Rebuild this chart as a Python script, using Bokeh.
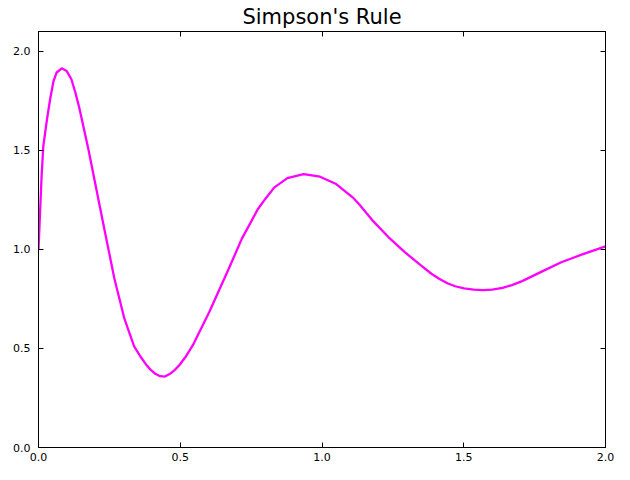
from bokeh.plotting import figure
from bokeh.models import Range1d, FixedTicker, PrintfTickFormatter, LinearAxis
from bokeh.embed import file_html
from bokeh.resources import INLINE

title_text = "Simpson's Rule"
tick_values = [0.0, 0.5, 1.0, 1.5, 2.0]

x_vals = [0.0, 0.006, 0.011, 0.017, 0.030, 0.041, 0.053, 0.064, 0.082,
          0.099, 0.116, 0.130, 0.145, 0.176, 0.211, 0.234, 0.268, 0.303, 0.337,
          0.360, 0.378, 0.395, 0.412, 0.429, 0.446, 0.464, 0.481, 0.498, 0.521,
          0.544, 0.602, 0.671, 0.717, 0.774, 0.797, 0.832, 0.878, 0.935, 0.993,
          1.050, 1.108, 1.131, 1.177, 1.235, 1.292, 1.350, 1.386, 1.413, 1.444,
          1.470, 1.501, 1.535, 1.568, 1.600, 1.637, 1.670, 1.706, 1.775, 1.844,
          1.913, 2.0]
y_vals = [1.0, 1.204, 1.372, 1.523, 1.657, 1.758, 1.850, 1.893, 1.914,
          1.901, 1.859, 1.792, 1.708, 1.506, 1.254, 1.090, 0.851, 0.650, 0.512,
          0.458, 0.422, 0.393, 0.372, 0.360, 0.358, 0.372, 0.392, 0.418, 0.462,
          0.515, 0.683, 0.902, 1.053, 1.204, 1.249, 1.313, 1.360, 1.380, 1.367,
          1.330, 1.263, 1.228, 1.148, 1.061, 0.986, 0.918, 0.877, 0.852, 0.828,
          0.814, 0.803, 0.797, 0.794, 0.797, 0.806, 0.820, 0.840, 0.888, 0.935,
          0.972, 1.015]

p = figure(width=614, height=464, x_range=Range1d(0, 2), y_range=Range1d(0, 2.1),
           output_backend="svg", toolbar_location=None, title=title_text,
           min_border_left=38, min_border_right=9, min_border_top=31, min_border_bottom=17)

p.title.text_font = "DejaVu Sans"
p.title.text_font_size = "21px"
p.title.text_font_style = "normal"
p.title.align = "center"
p.title.vertical_align = "top"
p.title.text_color = "black"
p.title.standoff = 1
p.title.offset = 0

p.xgrid.visible = False
p.ygrid.visible = False
p.outline_line_color = "black"
p.background_fill_color = "white"
p.border_fill_color = "white"

p.line(x_vals, y_vals, line_color="#FF00FF", line_width=2.3)

def style(ax, labels=True):
    ax.ticker = FixedTicker(ticks=tick_values, minor_ticks=[])
    ax.formatter = PrintfTickFormatter(format="%.1f")
    ax.axis_line_color = "black"
    ax.axis_line_width = 1
    ax.major_tick_line_color = "black"
    ax.major_tick_in = 5
    ax.major_tick_out = 0
    ax.minor_tick_line_color = None
    ax.major_label_text_font = "DejaVu Sans"
    ax.major_label_text_font_size = "11px" if labels else "1px"
    ax.major_label_text_color = "black" if labels else None
    if not labels:
        ax.major_label_standoff = 0

style(p.xaxis[0])
style(p.yaxis[0])
p.xaxis[0].major_label_standoff = 5
p.yaxis[0].major_label_standoff = 8

ra = LinearAxis()
style(ra, labels=False)
p.add_layout(ra, "right")
ta = LinearAxis()
style(ta, labels=False)
p.add_layout(ta, "above")

open("out.html", "w").write(file_html(p, INLINE))
